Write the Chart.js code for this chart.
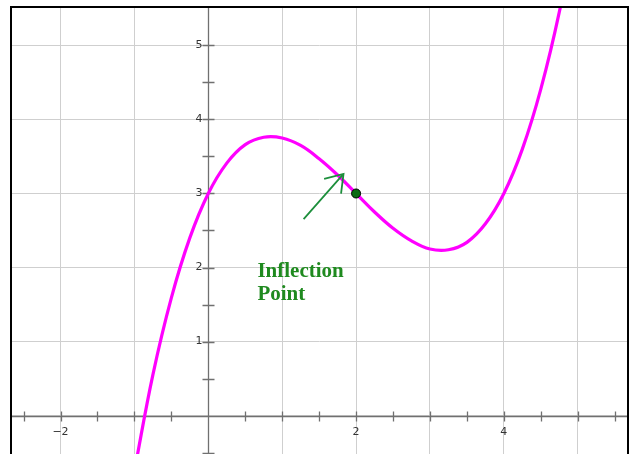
<!DOCTYPE html>
<html lang="en">
<head>
    <meta charset="UTF-8">
    <title>Inflection Point</title>
    <script src="https://cdn.jsdelivr.net/npm/chart.js"></script>
    <style>
        html, body { margin: 0; padding: 0; background: white; overflow: hidden; }
        canvas { display: block; }
    </style>
</head>
<body>
    <canvas id="chart" width="629" height="454"></canvas>

    <script>
        // curve samples
        const curveX = [-1.0, -0.75, -0.5, -0.25, 0, 0.25, 0.5, 0.75, 1.0, 1.25, 1.5, 1.75, 2.0,
                        2.25, 2.5, 2.75, 3.0, 3.25, 3.5, 3.75, 4.0, 4.25, 4.5, 4.75, 5.0];
        const curveY = [-0.75, 0.55, 1.59, 2.40, 3.0, 3.41, 3.66, 3.76, 3.75, 3.65, 3.47, 3.25, 3.0,
                        2.75, 2.53, 2.36, 2.25, 2.24, 2.34, 2.59, 3.0, 3.60, 4.41, 5.45, 6.75];

        const inflection = [{ x: 2, y: 3 }];

        const xGrid = [-2, -1, 0, 1, 2, 3, 4, 5];
        const yGrid = [0, 1, 2, 3, 4, 5];
        const xLabels = [-2, 2, 4];
        const yLabels = [1, 2, 3, 4, 5];
        const xMinor = [-2.5, -2, -1.5, -1, -0.5, 0.5, 1, 1.5, 2, 2.5, 3, 3.5, 4, 4.5, 5, 5.5];
        const yMinor = [-0.5, 0.5, 1, 1.5, 2, 2.5, 3, 3.5, 4, 4.5, 5];

        const annotLines = ['Inflection', 'Point'];
        const arrowFrom = { x: 1.29, y: 2.655 };
        const arrowTo = { x: 1.83, y: 3.265 };

        const curvePoints = curveX.map((x, i) => ({ x: x, y: curveY[i] }));

        const axesPlugin = {
            id: 'axes',
            beforeDatasetsDraw(chart) {
                const ctx = chart.ctx;
                const xs = chart.scales.x, ys = chart.scales.y;
                const area = chart.chartArea;
                const x0 = Math.round(xs.getPixelForValue(0)) + 0.5;
                const y0 = Math.round(ys.getPixelForValue(0)) + 0.5;
                ctx.save();
                ctx.strokeStyle = '#707070';
                ctx.lineWidth = 1.3;
                ctx.beginPath();
                ctx.moveTo(area.left, y0); ctx.lineTo(area.right, y0);
                ctx.moveTo(x0, area.top); ctx.lineTo(x0, area.bottom);
                xMinor.forEach(v => {
                    const px = Math.round(xs.getPixelForValue(v)) + 0.5;
                    ctx.moveTo(px, y0 - 5); ctx.lineTo(px, y0 + 5);
                });
                yMinor.forEach(v => {
                    const py = Math.round(ys.getPixelForValue(v)) + 0.5;
                    ctx.moveTo(x0 - 6, py); ctx.lineTo(x0 + 6, py);
                });
                ctx.stroke();

                ctx.fillStyle = '#333';
                ctx.font = '11px "DejaVu Sans", Verdana, sans-serif';
                ctx.textAlign = 'center';
                ctx.textBaseline = 'middle';
                xLabels.forEach(v => {
                    ctx.fillText(v < 0 ? '\u2212' + Math.abs(v) : String(v), xs.getPixelForValue(v), y0 + 16);
                });
                ctx.textAlign = 'right';
                yLabels.forEach(v => {
                    ctx.fillText(String(v), x0 - 6, ys.getPixelForValue(v));
                });
                ctx.restore();
            },
            afterDraw(chart) {
                const ctx = chart.ctx;
                const xs = chart.scales.x, ys = chart.scales.y;
                const area = chart.chartArea;
                ctx.save();
                // frame
                ctx.strokeStyle = '#000';
                ctx.lineWidth = 2;
                ctx.beginPath();
                ctx.moveTo(area.left, area.bottom + 2);
                ctx.lineTo(area.left, area.top);
                ctx.lineTo(area.right, area.top);
                ctx.lineTo(area.right, area.bottom + 2);
                ctx.stroke();

                // arrow
                const ax = xs.getPixelForValue(arrowFrom.x), ay = ys.getPixelForValue(arrowFrom.y);
                const bx = xs.getPixelForValue(arrowTo.x), by = ys.getPixelForValue(arrowTo.y);
                const ang = Math.atan2(by - ay, bx - ax);
                const head = 20, spread = 0.6;
                ctx.strokeStyle = '#1d8f3c';
                ctx.lineWidth = 1.8;
                ctx.beginPath();
                ctx.moveTo(ax, ay); ctx.lineTo(bx, by);
                ctx.moveTo(bx - head * Math.cos(ang - spread), by - head * Math.sin(ang - spread));
                ctx.lineTo(bx, by);
                ctx.lineTo(bx - head * Math.cos(ang + spread), by - head * Math.sin(ang + spread));
                ctx.stroke();

                // label
                ctx.fillStyle = '#1f8a1f';
                ctx.font = 'bold 21px "Liberation Serif", "DejaVu Serif", serif';
                ctx.textAlign = 'left';
                ctx.textBaseline = 'alphabetic';
                const tx = xs.getPixelForValue(0.665);
                ctx.fillText(annotLines[0], tx, ys.getPixelForValue(1.865));
                ctx.fillText(annotLines[1], tx, ys.getPixelForValue(1.555));
                ctx.restore();
            }
        };

        new Chart(document.getElementById('chart'), {
            type: 'scatter',
            data: {
                datasets: [
                    {
                        data: curvePoints,
                        showLine: true,
                        borderColor: '#ff00ff',
                        borderWidth: 3.2,
                        pointRadius: 0,
                        tension: 0.4,
                        order: 2
                    },
                    {
                        data: inflection,
                        pointRadius: 4.5,
                        backgroundColor: '#0b6b14',
                        borderColor: '#000',
                        borderWidth: 1,
                        order: 1
                    }
                ]
            },
            options: {
                responsive: false,
                animation: false,
                layout: { autoPadding: false, padding: { left: 11, top: 7, right: 1, bottom: 0 } },
                plugins: { legend: { display: false }, tooltip: { enabled: false } },
                scales: {
                    x: {
                        type: 'linear',
                        min: -2.67,
                        max: 5.68,
                        afterBuildTicks: s => { s.ticks = xGrid.map(v => ({ value: v })); },
                        ticks: { display: false },
                        grid: { color: '#cfcfcf', lineWidth: 1, drawTicks: false },
                        border: { display: false }
                    },
                    y: {
                        type: 'linear',
                        min: -0.52,
                        max: 5.52,
                        afterBuildTicks: s => { s.ticks = yGrid.map(v => ({ value: v })); },
                        ticks: { display: false },
                        grid: { color: '#cfcfcf', lineWidth: 1, drawTicks: false },
                        border: { display: false }
                    }
                }
            },
            plugins: [axesPlugin]
        });
    </script>
</body>
</html>
